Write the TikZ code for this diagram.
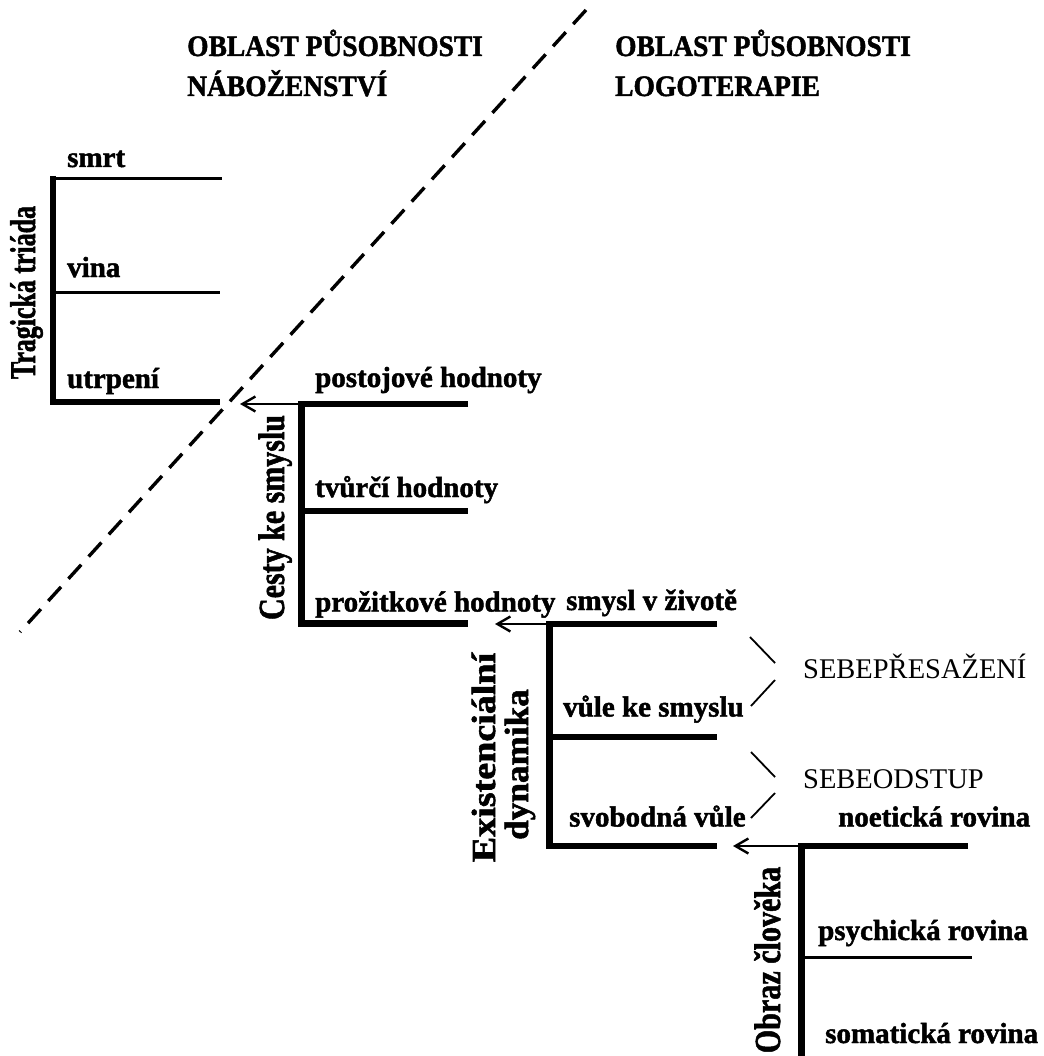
\documentclass[tikz,border=0pt]{standalone}
\usepackage{fontspec}
\setmainfont{Liberation Serif}[BoldFeatures={FakeBold=1.6}]
\usetikzlibrary{arrows.meta}
\begin{document}
\begin{tikzpicture}[x=1pt,y=-1pt,
  thickline/.style={line width=6.5pt,line join=miter,line cap=butt},
  thinline/.style={line width=3pt,line cap=butt},
  arrowline/.style={line width=2.4pt,-{Straight Barb[length=13pt,width=15pt,line width=2.4pt]}},
  bracketline/.style={line width=1.8pt},
  dashline/.style={line width=3.4pt,dash pattern=on 19pt off 11pt},
  lbl/.style={anchor=base west,inner sep=0pt,font=\bfseries\fontsize{29}{33}\selectfont},
  hdr/.style={anchor=base west,inner sep=0pt,font=\bfseries\fontsize{27.5}{31}\selectfont},
  sebe/.style={anchor=base west,inner sep=0pt,font=\fontsize{28.5}{32}\selectfont},
  vlbl/.style={anchor=base,inner sep=0pt,rotate=90}]
\useasboundingbox (0,0) rectangle (1043,1056);

% headers
\node[hdr] (hL1) at (187,56) {\scalebox{1}[1.08]{OBLAST PŮSOBNOSTI}};
\node[hdr] (hL2) at (187,96) {\scalebox{1}[1.08]{NÁBOŽENSTVÍ}};
\node[hdr] (hR1) at (615,56) {\scalebox{1}[1.08]{OBLAST PŮSOBNOSTI}};
\node[hdr] (hR2) at (615,96) {\scalebox{1}[1.08]{LOGOTERAPIE}};

% dashed divider
\coordinate (dTop) at (586,10);
\coordinate (dBot) at (20,632);
\draw[dashline] (dTop) -- (dBot);

% Tragicka triada
\coordinate (t1) at (53,179);
\coordinate (t1e) at (222,179);
\coordinate (t2) at (53,292);
\coordinate (t2e) at (220,292);
\coordinate (t3) at (53,402);
\coordinate (t3e) at (220,402);
\draw[thickline] (53,176) -- (53,405.25);
\draw[thinline] (t1) -- (t1e);
\draw[thinline] (t2) -- (t2e);
\draw[thickline] (t3) -- (t3e);
\node[lbl] (smrt) at (67,167) {smrt};
\node[lbl] (vina) at (67,277) {vina};
\node[lbl] (utrp) at (67,388) {utrpení};
\node[vlbl,font=\bfseries\fontsize{32}{36}\selectfont] (tt) at (35,292.5) {\scalebox{0.81}[1.12]{Tragická triáda}};

% Cesty ke smyslu
\coordinate (c1) at (301.5,404);
\coordinate (c1e) at (468,404);
\coordinate (c2) at (301.5,511);
\coordinate (c2e) at (468,511);
\coordinate (c3) at (301.5,623.5);
\coordinate (c3e) at (468,623.5);
\coordinate (cArr) at (240,404);
\draw[thickline] (c1e) -- (c1) -- (c3) -- (c3e);
\draw[thickline] (c2) -- (c2e);
\draw[arrowline] (c1) -- (cArr);
\node[lbl] (post) at (315,387) {postojové hodnoty};
\node[lbl] (tvur) at (315,497) {tvůrčí hodnoty};
\node[lbl] (proz) at (315,611.5) {prožitkové hodnoty};
\node[vlbl,font=\bfseries\fontsize{35}{39}\selectfont] (cks) at (284,517.5) {\scalebox{0.857}[1.05]{Cesty ke smyslu}};

% Existencialni dynamika
\coordinate (e1) at (549.5,624);
\coordinate (e1e) at (717,624);
\coordinate (e2) at (549.5,737);
\coordinate (e2e) at (717,737);
\coordinate (e3) at (549.5,846);
\coordinate (e3e) at (717,846);
\coordinate (eArr) at (495,624);
\draw[thickline] (e1e) -- (e1) -- (e3) -- (e3e);
\draw[thickline] (e2) -- (e2e);
\draw[arrowline] (e1) -- (eArr);
\node[lbl] (smys) at (566,610) {smysl v životě};
\node[lbl] (vule) at (563,716.5) {vůle ke smyslu};
\node[lbl] (svob) at (569,826.5) {svobodná vůle};
\node[vlbl,font=\bfseries\fontsize{32}{36}\selectfont] (ed1) at (495,757.5) {\scalebox{1.19}[1.05]{Existenciální}};
\node[vlbl,font=\bfseries\fontsize{32}{36}\selectfont] (ed2) at (528,764.5) {\scalebox{1.1}[1.05]{dynamika}};

% brackets
\coordinate (b1a) at (750,637);
\coordinate (b1b) at (775,663);
\coordinate (b1c) at (775,680);
\coordinate (b1d) at (751,706);
\coordinate (b2a) at (751,752);
\coordinate (b2b) at (775,777);
\coordinate (b2c) at (775,793);
\coordinate (b2d) at (751,818);
\draw[bracketline] (b1a) -- (b1b);
\draw[bracketline] (b1c) -- (b1d);
\draw[bracketline] (b2a) -- (b2b);
\draw[bracketline] (b2c) -- (b2d);
\node[sebe] (sp) at (803,678) {SEBEPŘESAŽENÍ};
\node[sebe] (so) at (803,788) {SEBEODSTUP};

% Obraz cloveka
\coordinate (o1) at (801.5,846);
\coordinate (o1e) at (968,846);
\coordinate (o2) at (801.5,957.5);
\coordinate (o2e) at (971.5,957.5);
\coordinate (oBot) at (801.5,1060);
\coordinate (oArr) at (733,846);
\draw[thickline] (o1e) -- (o1) -- (oBot);
\draw[thinline] (o2) -- (o2e);
\draw[arrowline] (o1) -- (oArr);
\node[lbl] (noet) at (838,826.5) {noetická rovina};
\node[lbl] (psych) at (818,940) {psychická rovina};
\node[lbl] (soma) at (825,1043) {somatická rovina};
\node[vlbl,font=\bfseries\fontsize{35}{39}\selectfont] (obr) at (780,960) {\scalebox{0.86}[1.05]{Obraz člověka}};
\end{tikzpicture}
\end{document}
